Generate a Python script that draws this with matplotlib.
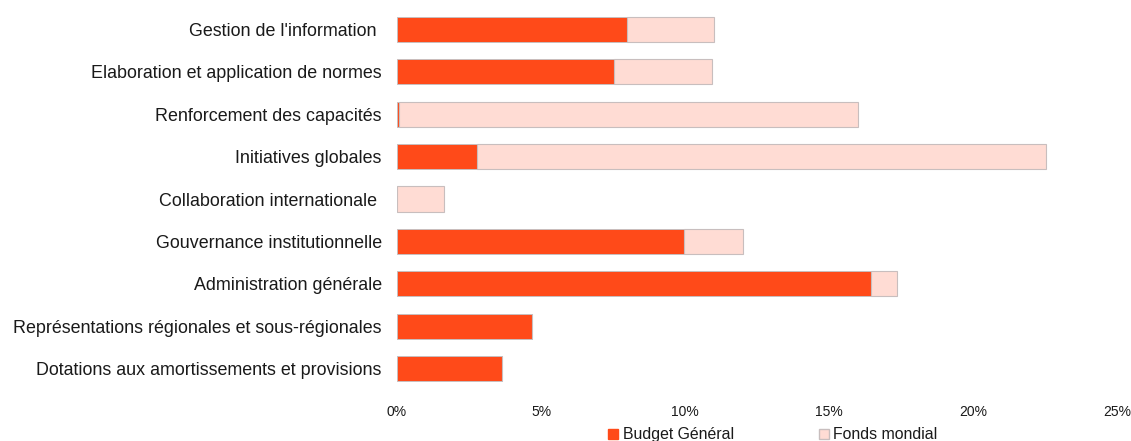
import matplotlib.pyplot as plt
from matplotlib.patches import Patch
from matplotlib.ticker import PercentFormatter

plt.rcParams["font.family"] = ["Liberation Sans", "DejaVu Sans"]

categories = [
    "Gestion de l'information ",
    "Elaboration et application de normes",
    "Renforcement des capacités",
    "Initiatives globales",
    "Collaboration internationale ",
    "Gouvernance institutionnelle",
    "Administration générale",
    "Représentations régionales et sous-régionales",
    "Dotations aux amortissements et provisions",
]
budget_general = [7.99, 7.53, 0.08, 2.78, 0.0, 9.97, 16.46, 4.69, 3.65]
fonds_mondial = [3.02, 3.41, 15.93, 19.75, 1.63, 2.04, 0.90, 0.0, 0.0]

ORANGE = "#FF4A19"
PINK = "#FFDCD4"
EDGE = "#C8BEBE"

fig = plt.figure(figsize=(11.31, 4.41), dpi=100)
ax = fig.add_axes([397 / 1131, 51 / 441, 720 / 1131, 382 / 441])

y = list(range(len(categories)))
ax.barh(y, budget_general, height=0.59, color=ORANGE, edgecolor=EDGE, linewidth=0.7)
ax.barh(y, fonds_mondial, left=budget_general, height=0.59, color=PINK,
        edgecolor=EDGE, linewidth=0.8)

ax.set_xlim(0, 25)
ax.set_ylim(len(categories) - 0.5, -0.5)
ax.set_xticks([0, 5, 10, 15, 20, 25])
ax.xaxis.set_major_formatter(PercentFormatter(decimals=0))
ax.set_yticks(y)
ax.set_yticklabels(categories, fontsize=12.9, color="#1a1a1a")
ax.tick_params(axis="y", length=0, pad=11)
ax.tick_params(axis="x", length=0, labelsize=10, pad=11, labelcolor="#1a1a1a")
for side in ("top", "right", "bottom", "left"):
    ax.spines[side].set_visible(False)

handles = [
    Patch(facecolor=ORANGE, edgecolor=ORANGE, label="Budget Général"),
    Patch(facecolor=PINK, edgecolor=EDGE, label="Fonds mondial"),
]
fig.legend(handles=handles, loc="lower center", bbox_to_anchor=(773 / 1131, -0.035),
           ncol=2, frameon=False, fontsize=11.4, handlelength=0.6, handleheight=0.6,
           handletextpad=0.3, columnspacing=5.4, labelcolor="#1a1a1a")

fig.savefig("out.png", dpi=100)
